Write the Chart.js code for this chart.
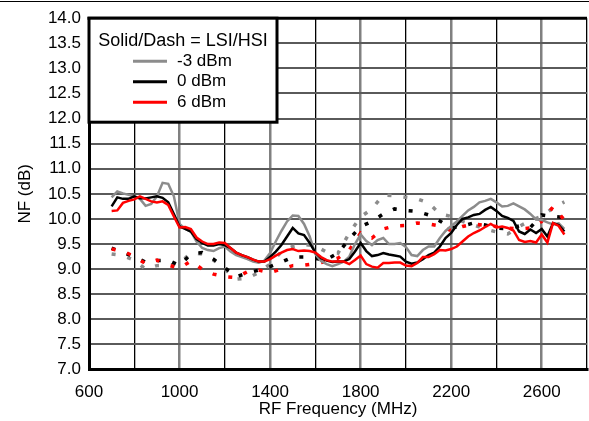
<!DOCTYPE html>
<html lang="en">
<head>
    <meta charset="UTF-8">
    <title>NF vs RF Frequency</title>
    <script src="https://cdn.jsdelivr.net/npm/chart.js"></script>
    <style>
        html, body { margin: 0; padding: 0; overflow: hidden; background: #fff; }
    </style>
</head>
<body>
    <canvas id="nfChart" width="600" height="421"></canvas>
    <script>
        // LSI (solid) sweeps, 25 MHz steps
        const freqLsi = [
            700, 725, 750, 775, 800, 825, 850, 875, 900, 925, 950, 975,
            1000, 1025, 1050, 1075, 1100, 1125, 1150, 1175, 1200, 1225, 1250, 1275,
            1300, 1325, 1350, 1375, 1400, 1425, 1450, 1475, 1500, 1525, 1550, 1575,
            1600, 1625, 1650, 1675, 1700, 1725, 1750, 1775, 1800, 1825, 1850, 1875,
            1900, 1925, 1950, 1975, 2000, 2025, 2050, 2075, 2100, 2125, 2150, 2175,
            2200, 2225, 2250, 2275, 2300, 2325, 2350, 2375, 2400, 2425, 2450, 2475,
            2500, 2525, 2550, 2575, 2600, 2625, 2650, 2675, 2700
        ];
        const lsiM3 = [
            10.43, 10.55, 10.51, 10.48, 10.45, 10.40, 10.26, 10.30, 10.45, 10.72, 10.70, 10.45,
            9.90, 9.80, 9.75, 9.55, 9.42, 9.38, 9.36, 9.42, 9.45, 9.35, 9.28, 9.24,
            9.20, 9.15, 9.13, 9.17, 9.32, 9.55, 9.76, 9.95, 10.07, 10.06, 9.90, 9.65,
            9.30, 9.16, 9.10, 9.06, 9.10, 9.15, 9.25, 9.50, 9.69, 9.56, 9.48, 9.58,
            9.62, 9.50, 9.50, 9.52, 9.44, 9.28, 9.26, 9.38, 9.45, 9.45, 9.62, 9.76,
            9.86, 9.95, 10.06, 10.17, 10.24, 10.33, 10.36, 10.40, 10.33, 10.25, 10.26, 10.31,
            10.25, 10.19, 10.10, 9.99, 9.98, 9.93, 9.89, 9.91, 9.80
        ];
        const lsi0 = [
            10.25, 10.43, 10.40, 10.40, 10.45, 10.41, 10.41, 10.43, 10.45, 10.42, 10.33, 10.10,
            9.85, 9.80, 9.75, 9.60, 9.52, 9.47, 9.47, 9.50, 9.48, 9.42, 9.33, 9.28,
            9.24, 9.19, 9.15, 9.15, 9.24, 9.35, 9.48, 9.65, 9.82, 9.71, 9.68, 9.52,
            9.33, 9.22, 9.17, 9.14, 9.15, 9.15, 9.20, 9.35, 9.52, 9.36, 9.26, 9.28,
            9.32, 9.29, 9.27, 9.25, 9.15, 9.11, 9.13, 9.20, 9.28, 9.33, 9.45, 9.62,
            9.72, 9.88, 10.00, 10.03, 10.08, 10.10, 10.18, 10.24, 10.16, 10.06, 10.02, 9.96,
            9.75, 9.70, 9.79, 9.72, 9.80, 9.65, 9.92, 9.88, 9.75
        ];
        const lsi6 = [
            10.16, 10.17, 10.32, 10.36, 10.39, 10.45, 10.40, 10.35, 10.33, 10.35, 10.28, 10.05,
            9.83, 9.84, 9.80, 9.63, 9.55, 9.50, 9.50, 9.53, 9.52, 9.42, 9.33, 9.28,
            9.24, 9.19, 9.15, 9.15, 9.20, 9.27, 9.33, 9.38, 9.40, 9.36, 9.37, 9.36,
            9.33, 9.24, 9.18, 9.15, 9.15, 9.15, 9.10, 9.18, 9.27, 9.10, 9.05, 9.03,
            9.12, 9.12, 9.13, 9.13, 9.07, 9.06, 9.12, 9.24, 9.24, 9.30, 9.38, 9.37,
            9.40, 9.45, 9.55, 9.65, 9.72, 9.77, 9.84, 9.90, 9.83, 9.85, 9.82, 9.77,
            9.58, 9.54, 9.56, 9.53, 9.69, 9.53, 9.92, 9.86, 9.69
        ];

        // HSI (dashed) sweeps, 50 MHz steps
        const freqHsi = [
            700, 750, 800, 850, 900, 950, 1000, 1050, 1100, 1150, 1200, 1250,
            1300, 1350, 1400, 1450, 1500, 1550, 1600, 1650, 1700, 1750, 1800, 1850,
            1900, 1950, 2000, 2050, 2100, 2150, 2200, 2250, 2300, 2350, 2400, 2450,
            2500, 2550, 2600, 2650, 2700
        ];
        const hsiM3 = [
            9.30, 9.27, 9.18, 9.00, 9.07, 9.08, 9.10, 9.33, 9.30, 9.18, 9.00, 8.80,
            8.82, 8.93, 9.10, 9.35, 9.45, 9.49, 9.46, 9.34, 9.32, 9.72, 10.04, 10.20,
            10.48, 10.46, 10.43, 10.40, 10.32, 10.10, 10.05, 9.95, 9.88, 9.80, 9.74, 9.70,
            9.85, 9.97, 10.05, 10.22, 10.34
        ];
        const hsi0 = [
            9.42, 9.33, 9.25, 9.14, 9.17, 9.18, 9.07, 9.30, 9.33, 9.20, 9.03, 8.85,
            8.92, 8.98, 9.05, 9.14, 9.24, 9.24, 9.21, 9.19, 9.32, 9.60, 9.85, 9.95,
            10.10, 10.20, 10.17, 10.15, 10.08, 9.96, 9.82, 9.86, 9.92, 9.88, 9.82, 9.80,
            9.86, 9.83, 10.08, 10.05, 10.03
        ];
        const hsi6 = [
            9.40, 9.36, 9.25, 9.11, 9.18, 9.08, 9.02, 9.16, 9.00, 8.90, 8.85, 8.83,
            8.95, 8.98, 8.93, 9.00, 9.07, 9.08, 9.11, 9.15, 9.22, 9.38, 9.72, 9.62,
            9.80, 9.86, 9.87, 9.92, 9.90, 9.86, 9.77, 9.85, 9.90, 9.87, 9.85, 9.82,
            9.80, 9.82, 9.95, 10.24, 9.98
        ];

        const legendTitle = 'Solid/Dash = LSI/HSI';
        const powerLabels = ['-3 dBm', '0 dBm', '6 dBm'];
        const powerColors = ['#8c8c8c', '#000000', '#ff0000'];

        const FONT = '"Liberation Sans", Arial, sans-serif';

        function pts(xs, ys) {
            return xs.map((x, i) => ({ x: x, y: ys[i] }));
        }

        function solid(label, color, ys) {
            return { label: label, data: pts(freqLsi, ys), borderColor: color, borderWidth: 2.5,
                     pointRadius: 0, tension: 0, fill: false };
        }
        function dashed(label, color, ys) {
            return { label: label, data: pts(freqHsi, ys), borderColor: color, borderWidth: 3.5,
                     borderDash: [4, 12], pointRadius: 0, tension: 0, fill: false };
        }

        // box legend drawn inside the plot, plus frame lines
        const boxLegend = {
            id: 'boxLegend',
            afterDraw(chart) {
                const ctx = chart.ctx;
                const a = chart.chartArea;
                ctx.save();
                // top rule of the page
                ctx.strokeStyle = '#000';
                ctx.lineWidth = 1;
                ctx.beginPath();
                ctx.moveTo(0, 1.5);
                ctx.lineTo(chart.width, 1.5);
                ctx.stroke();
                // top frame of the plot
                ctx.lineWidth = 3;
                ctx.beginPath();
                ctx.moveTo(a.left - 1.5, a.top);
                ctx.lineTo(a.right, a.top);
                ctx.stroke();

                // legend box
                const bx = a.left, by = a.top, bw = 188, bh = 104;
                ctx.fillStyle = '#fff';
                ctx.fillRect(bx, by, bw, bh);
                ctx.lineWidth = 3;
                ctx.strokeRect(bx, by, bw, bh);

                ctx.fillStyle = '#000';
                ctx.font = '18px ' + FONT;
                ctx.textAlign = 'center';
                ctx.textBaseline = 'middle';
                ctx.fillText(legendTitle, bx + 94, by + 23);

                ctx.font = '17px ' + FONT;
                ctx.textAlign = 'left';
                powerLabels.forEach((lab, i) => {
                    const y = by + 43 + i * 20.5;
                    ctx.strokeStyle = powerColors[i];
                    ctx.lineWidth = 3;
                    ctx.beginPath();
                    ctx.moveTo(bx + 44, y);
                    ctx.lineTo(bx + 78, y);
                    ctx.stroke();
                    ctx.fillStyle = '#000';
                    ctx.fillText(lab, bx + 88, y);
                });
                ctx.restore();
            }
        };

        const ctx = document.getElementById('nfChart').getContext('2d');
        const nfChart = new Chart(ctx, {
            type: 'line',
            data: {
                datasets: [
                    solid('6 dBm LSI', powerColors[2], lsi6),
                    solid('0 dBm LSI', powerColors[1], lsi0),
                    solid('-3 dBm LSI', powerColors[0], lsiM3),
                    dashed('6 dBm HSI', powerColors[2], hsi6),
                    dashed('0 dBm HSI', powerColors[1], hsi0),
                    dashed('-3 dBm HSI', powerColors[0], hsiM3)
                ]
            },
            options: {
                responsive: false,
                devicePixelRatio: 1,
                animation: false,
                layout: { padding: { top: 16, right: 10, left: 0, bottom: 0 } },
                plugins: {
                    legend: { display: false },
                    tooltip: { enabled: false }
                },
                scales: {
                    x: {
                        type: 'linear',
                        min: 600,
                        max: 2800,
                        afterFit: s => { s.height = 51.5; },
                        ticks: {
                            stepSize: 200,
                            color: '#000',
                            font: { family: FONT, size: 17 },
                            padding: 13,
                            maxRotation: 0,
                            autoSkip: false,
                            callback: v => ((v - 600) % 400 === 0 ? String(v) : '')
                        },
                        grid: {
                            drawTicks: false,
                            color: c => ((c.tick.value - 600) % 400 === 0 ? '#808080' : '#000'),
                            lineWidth: c => ((c.tick.value - 600) % 400 === 0 ? 2.5 : 1.3)
                        },
                        border: { color: '#000', width: 3 },
                        title: {
                            display: true,
                            text: 'RF Frequency (MHz)',
                            color: '#000',
                            font: { family: FONT, size: 17 },
                            padding: { top: 0, bottom: 1 }
                        }
                    },
                    y: {
                        min: 7,
                        max: 14,
                        afterFit: s => { s.width = 89; },
                        ticks: {
                            stepSize: 0.5,
                            color: '#000',
                            font: { family: FONT, size: 17 },
                            padding: 8,
                            callback: v => Number(v).toFixed(1)
                        },
                        grid: {
                            drawTicks: false,
                            color: '#5a5a5a',
                            lineWidth: 2
                        },
                        border: { color: '#000', width: 3 },
                        title: {
                            display: true,
                            text: 'NF (dB)',
                            color: '#000',
                            font: { family: FONT, size: 17 },
                            padding: { top: 15, bottom: 0 }
                        }
                    }
                }
            },
            plugins: [boxLegend]
        });
    </script>
</body>
</html>
